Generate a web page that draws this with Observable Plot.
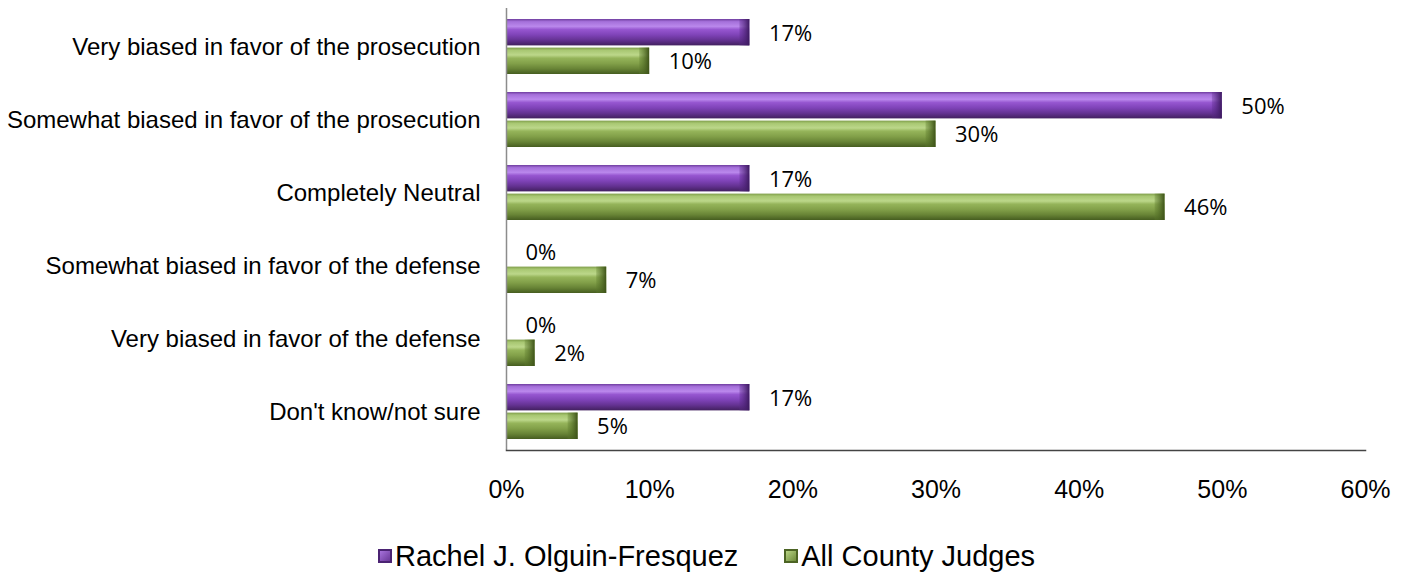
<!DOCTYPE html>
<html>
<head>
<meta charset="utf-8">
<script src="https://cdn.jsdelivr.net/npm/d3@7"></script>
<script src="https://cdn.jsdelivr.net/npm/@observablehq/plot@0.6"></script>
<style>
  html, body { margin: 0; padding: 0; background: #fff; }
  #chart svg { display: block; }
  #legend {
    width: 1413px; height: 62px; display: flex; justify-content: center; align-items: center;
    font-family: "Liberation Sans", Arial, sans-serif; font-size: 29px; color: #000; gap: 46px;
  }
  .item { display: flex; align-items: center; gap: 3px; }
  .sw { width: 14px; height: 14px; display: inline-block; box-sizing: border-box; }
</style>
</head>
<body>
<div id="chart"></div>
<div id="legend"></div>
<script>
const categories = [
  "Very biased in favor of the prosecution",
  "Somewhat biased in favor of the prosecution",
  "Completely Neutral",
  "Somewhat biased in favor of the defense",
  "Very biased in favor of the defense",
  "Don't know/not sure"
];
const seriesNames = ["Rachel J. Olguin-Fresquez", "All County Judges"];
const rachel = [17, 50, 17, 0, 0, 17];
const allJudges = [10, 30, 46, 7, 2, 5];
const xTicks = [0, 10, 20, 30, 40, 50, 60];

const data = categories.flatMap((c, i) => [
  {category: c, series: seriesNames[0], value: rachel[i] / 100, key: "purple"},
  {category: c, series: seriesNames[1], value: allJudges[i] / 100, key: "green"}
]);
const purpleData = data.filter(d => d.key === "purple");
const greenData = data.filter(d => d.key === "green");

const half = 28.6; // half band inset for each bar
const tickVals = xTicks.map(t => t / 100);
const fmt = d => Math.round(d * 100) + "%";

const plot = Plot.plot({
  width: 1413,
  height: 525,
  marginLeft: 506,
  marginRight: 48,
  marginTop: 8,
  marginBottom: 75,
  style: {fontFamily: "'Liberation Sans', Arial, sans-serif", background: "#fff", color: "#000"},
  x: {domain: [0, 0.6], ticks: tickVals, tickFormat: fmt, label: null},
  y: {domain: categories, paddingInner: 0.25, paddingOuter: 0.125, label: null},
  marks: [
    // bars
    Plot.barX(purpleData, {y: "category", x: "value", fill: "url(#gradPurple)", insetBottom: half}),
    Plot.barX(greenData, {y: "category", x: "value", fill: "url(#gradGreen)", insetTop: half}),
    // bevelled end caps
    Plot.barX(purpleData.filter(d => d.value > 0), {y: "category", x1: "value", x2: "value", insetLeft: -10, insetBottom: half, fill: "url(#capPurple)"}),
    Plot.barX(greenData.filter(d => d.value > 0), {y: "category", x1: "value", x2: "value", insetLeft: -10, insetTop: half, fill: "url(#capGreen)"}),
    // value labels
    Plot.text(purpleData, {y: "category", x: "value", text: d => fmt(d.value), dx: 19, dy: -13, textAnchor: "start", fontSize: 22, fontFamily: "'Open Sans', sans-serif", fill: "#000"}),
    Plot.text(greenData, {y: "category", x: "value", text: d => fmt(d.value), dx: 19, dy: 15, textAnchor: "start", fontSize: 22, fontFamily: "'Open Sans', sans-serif", fill: "#000"}),
    // axes
    Plot.ruleX([0], {stroke: "#8c8c8c", strokeWidth: 1.5}),
    Plot.frame({anchor: "bottom", stroke: "#444", strokeWidth: 1.5}),
    Plot.axisY({tickSize: 0, tickPadding: 26, fontSize: 24, label: null}),
    Plot.axisX({ticks: tickVals, tickFormat: fmt, tickSize: 0, tickPadding: 30, fontSize: 25, label: null})
  ]
});

// gradients for bevelled look
const ns = "http://www.w3.org/2000/svg";
const defs = document.createElementNS(ns, "defs");
function grad(id, stops, horizontal) {
  const g = document.createElementNS(ns, "linearGradient");
  g.setAttribute("id", id);
  g.setAttribute("x1", "0"); g.setAttribute("y1", "0");
  g.setAttribute("x2", horizontal ? "1" : "0"); g.setAttribute("y2", horizontal ? "0" : "1");
  for (const [o, c, op] of stops) {
    const s = document.createElementNS(ns, "stop");
    s.setAttribute("offset", o);
    s.setAttribute("stop-color", c);
    if (op !== undefined) s.setAttribute("stop-opacity", op);
    g.appendChild(s);
  }
  defs.appendChild(g);
}
grad("gradPurple", [
  [0, "#6f3d9f"], [0.1, "#a570da"], [0.28, "#ba88ec"], [0.4, "#9656d0"],
  [0.6, "#7f43b8"], [0.8, "#643292"], [1, "#42205f"]
]);
grad("gradGreen", [
  [0, "#7f9e4a"], [0.1, "#a8c772"], [0.28, "#bcd78a"], [0.4, "#95b45a"],
  [0.6, "#82a049"], [0.8, "#688436"], [1, "#465d20"]
]);
grad("capPurple", [[0, "#5a2a88", 0.3], [1, "#3d1a60", 1]], true);
grad("capGreen", [[0, "#5c7a2c", 0.3], [1, "#3e5319", 1]], true);
plot.insertBefore(defs, plot.firstChild);

document.getElementById("chart").appendChild(plot);

const legend = document.getElementById("legend");
const legendCols = [
  {name: seriesNames[0], bg: "linear-gradient(135deg, #a772dc, #6a3898)", border: "#4b2373"},
  {name: seriesNames[1], bg: "linear-gradient(135deg, #b8d484, #6d8a3a)", border: "#4c6424"}
];
for (const l of legendCols) {
  const it = document.createElement("div");
  it.className = "item";
  const sw = document.createElement("span");
  sw.className = "sw";
  sw.style.background = l.bg;
  sw.style.border = "2px solid " + l.border;
  const tx = document.createElement("span");
  tx.textContent = l.name;
  it.appendChild(sw); it.appendChild(tx);
  legend.appendChild(it);
}
</script>
</body>
</html>
